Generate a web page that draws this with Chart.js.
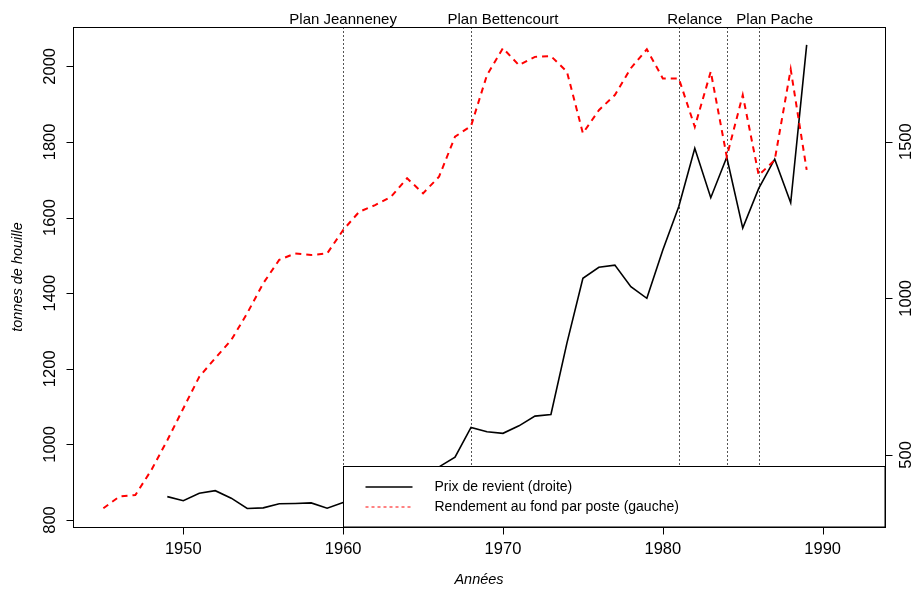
<!DOCTYPE html>
<html>
<head>
<meta charset="utf-8">
<script src="https://cdn.jsdelivr.net/npm/chart.js@4/dist/chart.umd.min.js"></script>
<style>
  body { margin: 0; background: #fff; }
  canvas { display: block; }
</style>
</head>
<body>
<canvas id="chart" width="919" height="589"></canvas>
<script>
// Rendement au fond par poste (left axis), 1945-1989
const rendementYears = [1945, 1946, 1947, 1948, 1949, 1950, 1951, 1952, 1953, 1954,
  1955, 1956, 1957, 1958, 1959, 1960, 1961, 1962, 1963, 1964, 1965, 1966, 1967,
  1968, 1969, 1970, 1971, 1972, 1973, 1974, 1975, 1976, 1977, 1978, 1979, 1980,
  1981, 1982, 1983, 1984, 1985, 1986, 1987, 1988, 1989];
const rendement = [831, 862, 866, 932, 1011, 1095, 1179, 1228, 1276, 1347,
  1426, 1488, 1505, 1501, 1505, 1567, 1615, 1633, 1655, 1704, 1664, 1708, 1814,
  1842, 1977, 2048, 2003, 2025, 2027, 1986, 1823, 1884, 1924, 1995, 2045, 1968,
  1968, 1840, 1986, 1761, 1924, 1712, 1752, 1992, 1726];

// Prix de revient (right axis), 1949-1989
const prixYears = [1949, 1950, 1951, 1952, 1953, 1954, 1955, 1956, 1957, 1958,
  1959, 1960, 1961, 1962, 1963, 1964, 1965, 1966, 1967, 1968, 1969, 1970, 1971,
  1972, 1973, 1974, 1975, 1976, 1977, 1978, 1979, 1980, 1981, 1982, 1983, 1984,
  1985, 1986, 1987, 1988, 1989];
const prixRevient = [367, 354, 378, 386, 362, 329, 331, 344, 345, 347,
  330, 348, 360, 372, 388, 410, 435, 462, 493, 588, 574, 569, 593,
  624, 629, 857, 1064, 1099, 1106, 1037, 1000, 1154, 1293, 1479, 1321, 1450,
  1224, 1351, 1444, 1305, 1809];

// Axis ticks
const xTicks = [1950, 1960, 1970, 1980, 1990];
const leftTicks = [800, 1000, 1200, 1400, 1600, 1800, 2000];
const rightTicks = [500, 1000, 1500];

// Policy markers
const eventYears = [1960, 1968, 1981, 1984, 1986];
const eventLabels = ["Plan Jeanneney", "Plan Bettencourt", "Relance", "Plan Pache"];
const eventLabelYears = [1960, 1970, 1982, 1987];

const legendLabels = ["Prix de revient (droite)", "Rendement au fond par poste (gauche)"];

const FONT = '"Liberation Sans", Arial, Helvetica, sans-serif';

const basePlugin = {
  id: "basePlot",
  beforeDatasetsDraw(chart) {
    const ctx = chart.ctx;
    const area = chart.chartArea;
    const x = chart.scales.x;
    ctx.save();
    ctx.strokeStyle = "#555";
    ctx.lineWidth = 1;
    ctx.setLineDash([2, 2]);
    eventYears.forEach((yr) => {
      const px = Math.round(x.getPixelForValue(yr)) + 0.5;
      ctx.beginPath();
      ctx.moveTo(px, area.top);
      ctx.lineTo(px, area.bottom);
      ctx.stroke();
    });
    ctx.restore();
  },
  afterDatasetsDraw(chart) {
    const ctx = chart.ctx;
    const area = chart.chartArea;
    const x = chart.scales.x;
    const yL = chart.scales.y;
    const yR = chart.scales.y2;
    ctx.save();

    // legend box (covers lines, like R's legend)
    const lx = Math.round(x.getPixelForValue(1960)) + 0.5;
    const ly = 466.5;
    const lw = area.right - lx;
    const lh = area.bottom - ly;
    ctx.fillStyle = "#fff";
    ctx.fillRect(lx, ly, lw, lh);
    ctx.strokeStyle = "#000";
    ctx.lineWidth = 1;
    ctx.strokeRect(lx, ly, lw, lh);

    ctx.font = "14px " + FONT;
    ctx.textBaseline = "middle";
    ctx.textAlign = "left";
    ctx.fillStyle = "#000";
    const rows = [487, 507];
    // solid sample
    ctx.strokeStyle = "#000";
    ctx.lineWidth = 1.5;
    ctx.beginPath();
    ctx.moveTo(lx + 22, rows[0]);
    ctx.lineTo(lx + 69, rows[0]);
    ctx.stroke();
    // dashed sample
    ctx.strokeStyle = "#ff3030";
    ctx.lineWidth = 1.2;
    ctx.setLineDash([3, 3]);
    ctx.beginPath();
    ctx.moveTo(lx + 22, rows[1]);
    ctx.lineTo(lx + 69, rows[1]);
    ctx.stroke();
    ctx.setLineDash([]);
    ctx.fillText(legendLabels[0], lx + 91, rows[0]);
    ctx.fillText(legendLabels[1], lx + 91, rows[1]);

    // plot box
    ctx.strokeStyle = "#000";
    ctx.lineWidth = 1;
    ctx.strokeRect(area.left + 0.5, area.top + 0.5, area.right - area.left, area.bottom - area.top);

    ctx.font = "16.5px " + FONT;
    ctx.fillStyle = "#000";

    // bottom axis
    ctx.lineWidth = 1;
    ctx.beginPath();
    const xb = area.bottom + 0.5;
    ctx.moveTo(x.getPixelForValue(xTicks[0]), xb);
    ctx.lineTo(x.getPixelForValue(xTicks[xTicks.length - 1]), xb);
    xTicks.forEach((t) => {
      const px = Math.round(x.getPixelForValue(t)) + 0.5;
      ctx.moveTo(px, xb);
      ctx.lineTo(px, xb + 7);
    });
    ctx.stroke();
    ctx.textAlign = "center";
    ctx.textBaseline = "middle";
    xTicks.forEach((t) => {
      ctx.fillText(String(t), x.getPixelForValue(t), 549);
    });

    // left axis
    const xl = area.left + 0.5;
    ctx.beginPath();
    ctx.moveTo(xl, yL.getPixelForValue(leftTicks[0]));
    ctx.lineTo(xl, yL.getPixelForValue(leftTicks[leftTicks.length - 1]));
    leftTicks.forEach((t) => {
      const py = Math.round(yL.getPixelForValue(t)) + 0.5;
      ctx.moveTo(xl, py);
      ctx.lineTo(xl - 7, py);
    });
    ctx.stroke();
    leftTicks.forEach((t) => {
      ctx.save();
      ctx.translate(50, yL.getPixelForValue(t));
      ctx.rotate(-Math.PI / 2);
      ctx.fillText(String(t), 0, 0);
      ctx.restore();
    });

    // right axis
    const xr = area.right + 0.5;
    ctx.beginPath();
    ctx.moveTo(xr, yR.getPixelForValue(rightTicks[0]));
    ctx.lineTo(xr, yR.getPixelForValue(rightTicks[rightTicks.length - 1]));
    rightTicks.forEach((t) => {
      const py = Math.round(yR.getPixelForValue(t)) + 0.5;
      ctx.moveTo(xr, py);
      ctx.lineTo(xr + 7, py);
    });
    ctx.stroke();
    rightTicks.forEach((t) => {
      ctx.save();
      ctx.translate(906, yR.getPixelForValue(t));
      ctx.rotate(-Math.PI / 2);
      ctx.fillText(String(t), 0, 0);
      ctx.restore();
    });

    // axis titles
    ctx.font = "italic 14.5px " + FONT;
    ctx.fillText("Années", (area.left + area.right) / 2, 580);
    ctx.save();
    ctx.translate(18, (area.top + area.bottom) / 2);
    ctx.rotate(-Math.PI / 2);
    ctx.fillText("tonnes de houille", 0, 0);
    ctx.restore();

    // event labels above the plot
    ctx.font = "15px " + FONT;
    ctx.textBaseline = "alphabetic";
    eventLabels.forEach((lab, i) => {
      ctx.fillText(lab, x.getPixelForValue(eventLabelYears[i]), 24);
    });

    ctx.restore();
  },
};

new Chart(document.getElementById("chart"), {
  type: "line",
  data: {
    datasets: [
      {
        label: legendLabels[1],
        data: rendementYears.map((yr, i) => ({ x: yr, y: rendement[i] })),
        yAxisID: "y",
        borderColor: "#ff0000",
        borderWidth: 2,
        borderDash: [6, 5],
        pointRadius: 0,
        tension: 0,
        fill: false,
      },
      {
        label: legendLabels[0],
        data: prixYears.map((yr, i) => ({ x: yr, y: prixRevient[i] })),
        yAxisID: "y2",
        borderColor: "#000000",
        borderWidth: 1.6,
        pointRadius: 0,
        tension: 0,
        fill: false,
      },
    ],
  },
  options: {
    responsive: false,
    animation: false,
    devicePixelRatio: 1,
    layout: { padding: { left: 73, right: 34, top: 27, bottom: 62 } },
    plugins: { legend: { display: false }, tooltip: { enabled: false } },
    scales: {
      x: { type: "linear", min: 1943.1, max: 1993.9, display: false },
      y: { type: "linear", min: 781.5, max: 2104, display: false },
      y2: { type: "linear", min: 270, max: 1866, display: false, position: "right" },
    },
  },
  plugins: [basePlugin],
});
</script>
</body>
</html>
